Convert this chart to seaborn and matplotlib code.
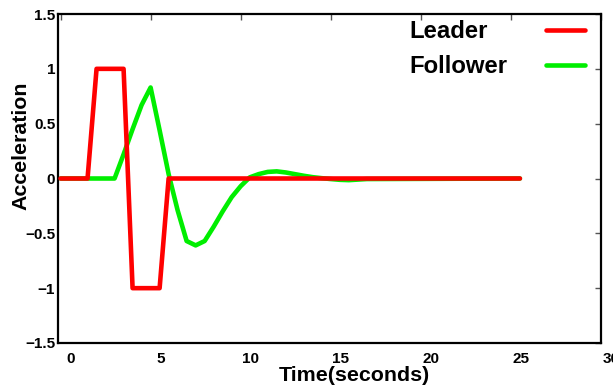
import matplotlib
matplotlib.use("Agg")
import matplotlib.pyplot as plt
import matplotlib.transforms as mtransforms
import seaborn as sns
import pandas as pd

# Dados
leader_t = [0, 1.5, 2.0, 3.5, 4.0, 5.5, 6.0, 25.5]
leader_a = [0, 0, 1, 1, -1, -1, 0, 0]

follower_t = [0, 3.0, 3.5, 4.0, 4.5, 5.0, 5.5, 6.0, 6.5, 7.0, 7.5, 8.0, 8.5, 9.0,
              9.5, 10.0, 10.5, 11.0, 11.5, 12.0, 12.5, 13.0, 13.5, 14.0, 14.5,
              15.0, 15.5, 16.0, 16.5, 17.0, 25.5]
follower_a = [0, 0, 0.22, 0.45, 0.67, 0.83, 0.44, 0.04, -0.29, -0.57, -0.61, -0.57,
              -0.44, -0.30, -0.17, -0.07, 0.01, 0.04, 0.06, 0.065, 0.055, 0.04,
              0.025, 0.012, 0.003, -0.005, -0.012, -0.015, -0.01, -0.005, 0]

x_ticks = [0, 5, 10, 15, 20, 25, 30]
y_ticks = [-1.5, -1, -0.5, 0, 0.5, 1, 1.5]
y_tick_labels = ["\u22121.5", "\u22121", "\u22120.5", "0", "0.5", "1", "1.5"]

df_leader = pd.DataFrame({"t": leader_t, "a": leader_a})
df_follower = pd.DataFrame({"t": follower_t, "a": follower_a})

sns.set_style("white")
plt.rcParams["font.family"] = ["Liberation Sans", "DejaVu Sans"]
plt.rcParams["font.weight"] = "bold"
plt.rcParams["text.color"] = "black"
plt.rcParams["axes.labelcolor"] = "black"

fig = plt.figure(figsize=(6.13, 3.88), dpi=100)
ax = fig.add_axes([58 / 613, 1 - 343 / 388, (601 - 58) / 613, (343 - 14) / 388])

# seguidor primeiro, líder por cima
sns.lineplot(data=df_follower, x="t", y="a", ax=ax, color="#00ee00", lw=3.3,
             label="Follower", zorder=2)
sns.lineplot(data=df_leader, x="t", y="a", ax=ax, color="#ff0000", lw=3.3,
             label="Leader", zorder=3)

ax.set_xlim(-0.14, 30)
ax.set_ylim(-1.5, 1.5)
ax.set_xticks(x_ticks)
ax.set_yticks(y_ticks)
ax.set_yticklabels(y_tick_labels)

ax.tick_params(direction="in", length=4, width=1, color="#555555",
               top=True, right=True, labelsize=11, labelcolor="black")
ax.tick_params(axis="x", pad=6.5)
ax.tick_params(axis="y", pad=2)
for lab in ax.get_xticklabels() + ax.get_yticklabels():
    lab.set_fontweight("bold")

# rótulos do eixo x deslocados para a direita
offset = mtransforms.ScaledTranslation(0.10, 0, fig.dpi_scale_trans)
for lab in ax.get_xticklabels():
    lab.set_transform(lab.get_transform() + offset)

for s in ax.spines.values():
    s.set_linewidth(1.6)
    s.set_color("black")

ax.set_xlabel("Time(seconds)", fontsize=15.4, fontweight="bold")
ax.set_ylabel("Acceleration", fontsize=15.4, fontweight="bold")
ax.xaxis.set_label_coords(0.546, -0.071)
ax.yaxis.set_label_coords(-0.05, 0.60)

handles, labels = ax.get_legend_handles_labels()
order = [1, 0]
leg = ax.legend([handles[i] for i in order], [labels[i] for i in order],
                markerfirst=False, frameon=False, loc="upper right",
                bbox_to_anchor=(585 / 613, 1 - 20 / 388), bbox_transform=fig.transFigure,
                borderpad=0, borderaxespad=0, handlelength=1.65, handletextpad=1.6,
                labelspacing=0.52, prop={"size": 17.2, "weight": "bold"})
for ln in leg.get_lines():
    ln.set_linewidth(3.3)
for t in leg.get_texts():
    t.set_fontweight("bold")
    t.set_color("black")

# alinhar os textos da legenda à esquerda e as amostras à direita
fig.canvas.draw()
renderer = fig.canvas.get_renderer()
col = leg._legend_handle_box.get_children()[0]
col.align = "left"
items = col.get_children()
widths = [t.get_window_extent(renderer).width for t in leg.get_texts()]
wmax = max(widths)
for item, w in zip(items, widths):
    item.sep = 1.6 * 17.2 + (wmax - w) * 72 / fig.dpi

fig.savefig("out.png", dpi=100)
